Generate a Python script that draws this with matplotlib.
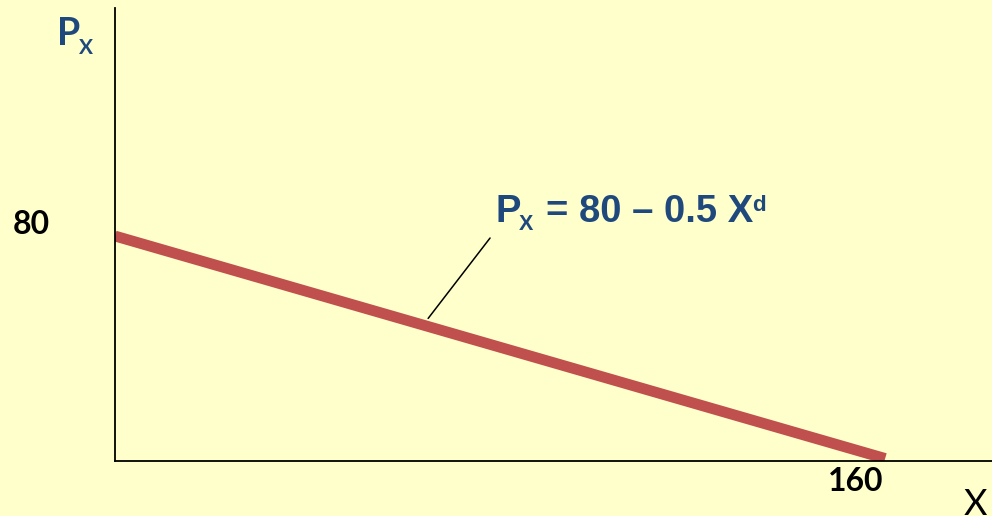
import numpy as np
import matplotlib.pyplot as plt

# Linear demand curve  P_X = 80 - 0.5 X
intercept = 80
slope = 0.5
quantity = np.array([0, 160])
price = intercept - slope * quantity
leader_q = 64  # where the equation label points to

BG = '#FFFFCC'
RED = '#C0504D'
BLUE = '#1F497D'

W, H = 992, 516
fig = plt.figure(figsize=(W / 100, H / 100), dpi=100, facecolor=BG)


def px(x, y):
    # pixel position (from top-left) -> figure fraction
    return x / W, 1 - y / H


ax = fig.add_axes([115 / W, (H - 461) / H, (W - 115) / W, (461 - 8) / H])
ax.set_facecolor('none')
ax.set_xlim(0, 182.2)
ax.set_ylim(-0.9, 162)
for s in ['top', 'right']:
    ax.spines[s].set_visible(False)
for s in ['left', 'bottom']:
    ax.spines[s].set_linewidth(1.3)
    ax.spines[s].set_color('black')
ax.set_xticks([])
ax.set_yticks([])

ax.plot(quantity, price, color=RED, lw=7.8, solid_capstyle='butt')

# leader line from the equation down to the curve
ax.annotate('', xy=(leader_q, intercept - slope * leader_q), xytext=(67, 87),
            textcoords='offset pixels',
            arrowprops=dict(arrowstyle='-', color='black', lw=1.1,
                            shrinkA=0, shrinkB=6))

# intercept labels
ax.annotate(str(intercept), xy=(0, intercept), xytext=(-65, 12),
            textcoords='offset pixels', ha='right', va='center',
            fontsize=23, fontweight='bold', family='Lato', color='black',
            annotation_clip=False)
ax.annotate(str(int(quantity[-1])), xy=(quantity[-1], 0), xytext=(-29, -23),
            textcoords='offset pixels', ha='center', va='center',
            fontsize=23, fontweight='bold', family='Lato', color='black',
            annotation_clip=False)

# axis labels
fig.text(*px(57, 45), 'P', fontsize=27, fontweight='bold', family='Lato',
         color=BLUE, va='baseline', ha='left')
fig.text(*px(79, 54), 'X', fontsize=15, fontweight='bold', family='Lato',
         color=BLUE, va='baseline', ha='left')
fig.text(*px(964, 488), 'X', fontsize=26, family='Lato', color='black',
         va='top', ha='left')

# demand equation
eq = dict(fontweight='bold', family='Liberation Sans', color=BLUE,
          va='baseline', ha='left')
fig.text(*px(495, 222), 'P', fontsize=27.5, **eq)
fig.text(*px(519, 230), 'X', fontsize=15.5, **eq)
fig.text(*px(546, 222), '= 80 \u2013 0.5 X', fontsize=27.5, **eq)
fig.text(*px(752, 211), 'd', fontsize=16, **eq)

fig.savefig('out.png', dpi=100, facecolor=BG)
